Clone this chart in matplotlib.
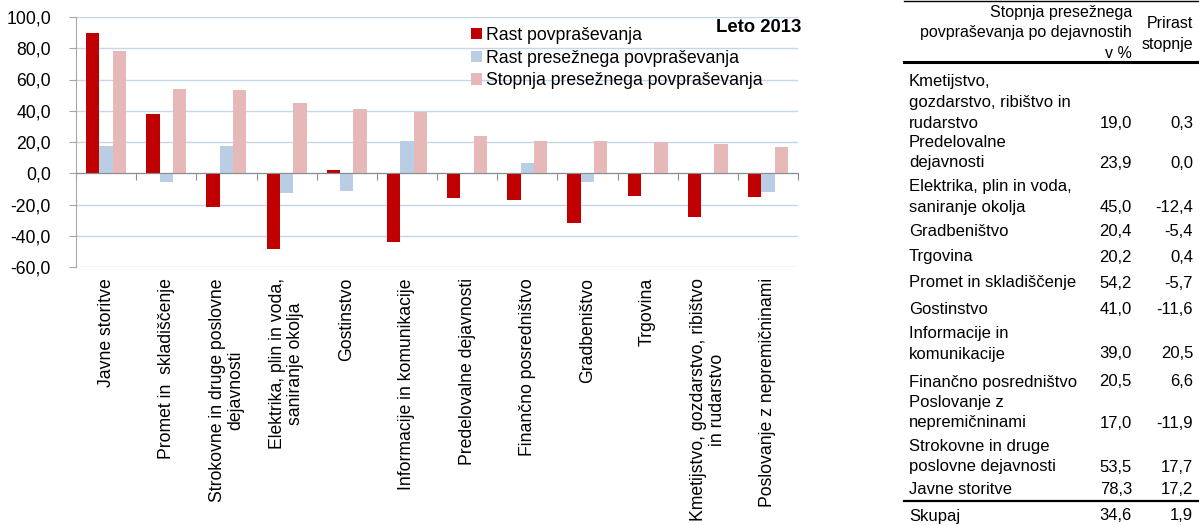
import matplotlib
matplotlib.use("Agg")
import matplotlib.pyplot as plt
from matplotlib.lines import Line2D
from matplotlib.ticker import FuncFormatter, FixedLocator
import numpy as np

plt.rcParams['font.family'] = ['Liberation Sans', 'DejaVu Sans']

# dejavnosti v grafu (razvrščene po stopnji presežnega povpraševanja)
kategorije = ["Javne storitve", "Promet in  skladiščenje",
              "Strokovne in druge poslovne\ndejavnosti",
              "Elektrika, plin in voda,\nsaniranje okolja", "Gostinstvo",
              "Informacije in komunikacije", "Predelovalne dejavnosti",
              "Finančno posredništvo", "Gradbeništvo", "Trgovina",
              "Kmetijstvo, gozdarstvo, ribištvo\nin rudarstvo",
              "Poslovanje z nepremičninami"]
rast_povp = [90.0, 37.9, -21.5, -48.4, 2.1, -43.7, -15.8, -16.8, -31.6, -14.3, -27.9, -14.9]
rast_presezno = [17.2, -5.7, 17.7, -12.4, -11.6, 20.5, 0.0, 6.6, -5.4, 0.4, 0.3, -11.9]
stopnja_presezno = [78.3, 54.2, 53.5, 45.0, 41.0, 39.0, 23.9, 20.5, 20.4, 20.2, 19.0, 17.0]
legenda = ["Rast povpraševanja", "Rast presežnega povpraševanja",
           "Stopnja presežnega povpraševanja"]

# tabela desno
tab_vrstice = ["Kmetijstvo,\ngozdarstvo, ribištvo in\nrudarstvo", "Predelovalne\ndejavnosti",
               "Elektrika, plin in voda,\nsaniranje okolja", "Gradbeništvo", "Trgovina",
               "Promet in skladiščenje", "Gostinstvo", "Informacije in\nkomunikacije",
               "Finančno posredništvo", "Poslovanje z\nnepremičninami",
               "Strokovne in druge\nposlovne dejavnosti", "Javne storitve"]
tab_stopnja = [19.0, 23.9, 45.0, 20.4, 20.2, 54.2, 41.0, 39.0, 20.5, 17.0, 53.5, 78.3]
tab_prirast = [0.3, 0.0, -12.4, -5.4, 0.4, -5.7, -11.6, 20.5, 6.6, -11.9, 17.7, 17.2]
skupaj_stopnja = 34.6
skupaj_prirast = 1.9

W, H = 1199, 525
fig = plt.figure(figsize=(W / 100, H / 100), dpi=100)
ax = fig.add_axes([76 / W, 1 - 267 / H, 722 / W, 250 / H])

barve = ['#C00000', '#B9CDE5', '#E6B9B8']
x = np.arange(len(kategorije))
w = 0.221
for k, (vals, c) in enumerate(zip([rast_povp, rast_presezno, stopnja_presezno], barve)):
    ax.bar(x + (k - 1) * w, vals, w, color=c, label=legenda[k], zorder=3)

ax.set_xlim(-0.5, len(kategorije) - 0.5)
ax.set_ylim(-60, 100)
ax.set_yticks(np.arange(-60, 101, 20))
ax.yaxis.set_major_formatter(FuncFormatter(lambda v, p: f"{v:.1f}".replace('.', ',')))
ax.grid(axis='y', color='#C6D6EA', lw=1, zorder=0)
ax.set_axisbelow(True)

for s in ['top', 'right']:
    ax.spines[s].set_visible(False)
ax.spines['left'].set_color('#A6A6A6')
ax.spines['bottom'].set_position(('data', 0))
ax.spines['bottom'].set_color('#8C8C8C')
ax.spines['bottom'].set_zorder(4)
ax.xaxis.set_major_locator(FixedLocator(np.arange(-0.5, len(kategorije), 1.0)))
ax.tick_params(axis='x', length=5, color='#8C8C8C', labelbottom=False)
ax.tick_params(axis='y', length=5, color='#A6A6A6', pad=13, labelsize=12.7)

# oznake kategorij pod grafom
for i, lab in enumerate(kategorije):
    ax.text(i, -0.044, lab, rotation=90, ha='center', va='top', multialignment='center',
            fontsize=12.7, linespacing=1.12,
            transform=ax.get_xaxis_transform())

ax.legend(loc='upper left', bbox_to_anchor=(471 / W, 1 - 27 / H),
          bbox_transform=fig.transFigure, frameon=False, fontsize=12.7,
          handlelength=0.6, handleheight=0.6, handletextpad=0.25,
          labelspacing=0.32, borderpad=0, borderaxespad=0)
fig.text(801 / W, 1 - 27 / H, "Leto 2013", ha='right', va='center',
         fontsize=13.3, fontweight='bold')

# tabela
def fy(py):
    return 1 - py / H

def fmt(v):
    return f"{v:.1f}".replace('.', ',')

x_lab, x_c1, x_c2 = 909 / W, 1132 / W, 1193 / W
fs = 12
pitch = 20.6

glava = ["Stopnja presežnega", "povpraševanja po dejavnostih", "v %"]
for t, py in zip(glava, [13, 33, 53]):
    fig.text(x_c1, fy(py), t, ha='right', va='center', fontsize=11.5)
for t, py in zip(["Prirast", "stopnje"], [24, 44]):
    fig.text(x_c2, fy(py), t, ha='right', va='center', fontsize=11.5)

zadnja = [123, 163, 207, 232, 257, 283, 310, 354, 382, 423, 467, 490]
for lab, s, p, py in zip(tab_vrstice, tab_stopnja, tab_prirast, zadnja):
    vrst = lab.split('\n')
    for j, t in enumerate(vrst):
        fig.text(x_lab, fy(py - (len(vrst) - 1 - j) * pitch), t, ha='left', va='center', fontsize=fs)
    fig.text(x_c1, fy(py), fmt(s), ha='right', va='center', fontsize=fs)
    fig.text(x_c2, fy(py), fmt(p), ha='right', va='center', fontsize=fs)

fig.text(x_lab, fy(516), "Skupaj", ha='left', va='center', fontsize=fs)
fig.text(x_c1, fy(516), fmt(skupaj_stopnja), ha='right', va='center', fontsize=fs)
fig.text(x_c2, fy(516), fmt(skupaj_prirast), ha='right', va='center', fontsize=fs)

for py, lw in [(1, 1.0), (62, 2.2), (501, 1.6)]:
    fig.add_artist(Line2D([904 / W, 1.0], [fy(py), fy(py)], color='black', lw=lw,
                          transform=fig.transFigure))

fig.savefig('out.png', dpi=100)
